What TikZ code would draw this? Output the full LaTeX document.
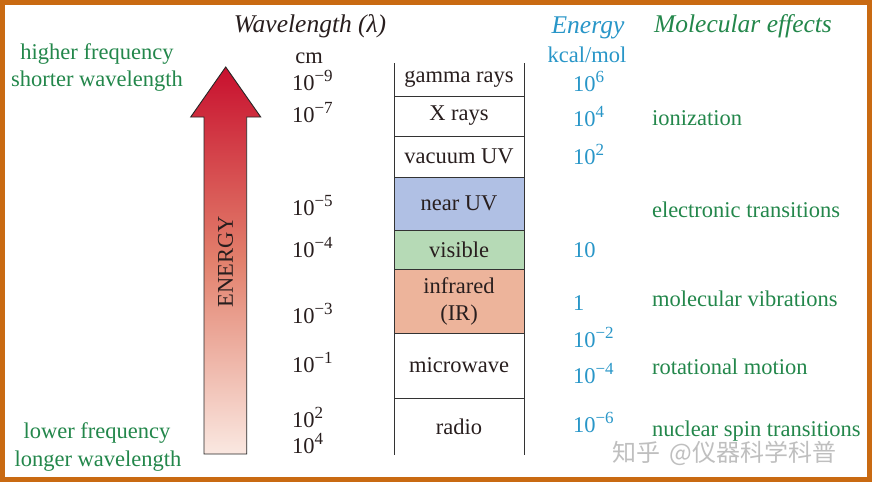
\documentclass[tikz,border=0pt]{standalone}
\usepackage{fontspec}
\setmainfont{Liberation Serif}
\newfontfamily\cjkfont{Noto Sans CJK SC}
\definecolor{frameorange}{RGB}{201,106,18}
\definecolor{effgreen}{RGB}{35,135,75}
\definecolor{enblue}{RGB}{40,150,200}
\definecolor{nuvblue}{RGB}{176,192,228}
\definecolor{visgreen}{RGB}{182,218,182}
\definecolor{irsalmon}{RGB}{237,180,155}
\definecolor{arrowtop}{RGB}{200,16,46}
\definecolor{arrowmid}{RGB}{226,128,108}
\definecolor{arrowbot}{RGB}{250,232,225}
\definecolor{darktxt}{RGB}{40,30,30}
\newcommand\tenp[1]{10\raisebox{0.40em}{\fontsize{17}{17}\selectfont #1}}
\begin{document}
\begin{tikzpicture}[x=1pt,y=-1pt,
  txt/.style={font=\fontsize{22.5}{27}\selectfont, inner sep=0pt, outer sep=0pt},
  head/.style={font=\fontsize{25.5}{30}\selectfont\itshape, anchor=base},
  lbl/.style={txt, text=darktxt},
  grn/.style={txt, text=effgreen},
  blu/.style={txt, text=enblue},
  band/.style={minimum width=130pt, inner sep=0pt, outer sep=0pt, text=darktxt,
    font=\fontsize{22.5}{27}\selectfont, align=center, anchor=north west},
  bandline/.style={draw=black!80, line width=0.9pt},
]
\useasboundingbox (0,0) rectangle (872,482);
\fill[white] (0,0) rectangle (872,482);
\draw[frameorange, line width=5pt] (2.5,2.5) rectangle (869.5,479.5);

% left labels
\node[grn, anchor=base] (hf) at (97,59) {higher frequency};
\node[grn, anchor=base] (sw) at (97,86) {shorter wavelength};
\node[grn, anchor=base] (lf) at (97,438) {lower frequency};
\node[grn, anchor=base] (lw) at (98,466) {longer wavelength};

% energy arrow
\path[draw=black!85, line width=0.9pt, top color=arrowtop, bottom color=arrowbot, middle color=arrowmid]
  (225.7,67) -- (260.7,117) -- (246.7,117) -- (246.7,454) -- (204,454) -- (204,117) -- (190.7,117) -- cycle;
\node[lbl, rotate=90] (energyword) at (225.5,262) {ENERGY};

% wavelength column
\node[lbl, head] (wlhead) at (310,32) {Wavelength (λ)};
\node[lbl, anchor=base] (cm) at (309,63) {cm};
\node[lbl, anchor=base west] (w9) at (292,90) {\tenp{−9}};
\node[lbl, anchor=base west] (w7) at (292,122) {\tenp{−7}};
\node[lbl, anchor=base west] (w5) at (292,215) {\tenp{−5}};
\node[lbl, anchor=base west] (w4) at (292,257) {\tenp{−4}};
\node[lbl, anchor=base west] (w3) at (292,323) {\tenp{−3}};
\node[lbl, anchor=base west] (w1) at (292,372) {\tenp{−1}};
\node[lbl, anchor=base west] (wp2) at (292,427) {\tenp{2}};
\node[lbl, anchor=base west] (wp4) at (292,453) {\tenp{4}};

% spectrum bands
\node[band, minimum height=33pt] (gamma) at (394,63) {gamma rays};
\node[band, minimum height=40pt] (xray) at (gamma.south west) {X rays};
\node[band, minimum height=41pt] (vuv) at (xray.south west) {vacuum UV};
\node[band, minimum height=53pt, fill=nuvblue] (nuv) at (vuv.south west) {near UV};
\node[band, minimum height=39pt, fill=visgreen] (vis) at (nuv.south west) {visible};
\node[band, minimum height=64pt, fill=irsalmon] (ir) at (vis.south west) {infrared\\(IR)};
\node[band, minimum height=65pt] (mw) at (ir.south west) {microwave};
\node[band, minimum height=57pt] (radio) at (mw.south west) {radio};
\draw[bandline] (gamma.north west) -- (radio.south west);
\draw[bandline] (gamma.north east) -- (radio.south east);
\foreach \b in {gamma,xray,vuv,nuv,vis,ir,mw}
  \draw[bandline] (\b.south west) -- (\b.south east);

% energy column
\node[blu, head] (enhead) at (588,33) {Energy};
\node[blu, anchor=base] (kcal) at (587,62) {kcal/mol};
\node[blu, anchor=base west] (e6) at (573,91) {\tenp{6}};
\node[blu, anchor=base west] (e4) at (573,126) {\tenp{4}};
\node[blu, anchor=base west] (e2) at (573,164) {\tenp{2}};
\node[blu, anchor=base west] (e1) at (573,257) {10};
\node[blu, anchor=base west] (e0) at (573,310) {1};
\node[blu, anchor=base west] (em2) at (573,347) {\tenp{−2}};
\node[blu, anchor=base west] (em4) at (573,383) {\tenp{−4}};
\node[blu, anchor=base west] (em6) at (573,432) {\tenp{−6}};

% molecular effects
\node[grn, head] (mehead) at (743,32) {Molecular effects};
\node[grn, anchor=base west] (ion) at (652,125) {ionization};
\node[grn, anchor=base west] (elec) at (652,217) {electronic transitions};
\node[grn, anchor=base west] (vib) at (652,306) {molecular vibrations};
\node[grn, anchor=base west] (rot) at (652,374) {rotational motion};
\node[grn, anchor=base west] (nuc) at (652,436) {nuclear spin transitions};

% watermark
\node[inner sep=0pt, anchor=base west, text=black!25, font=\cjkfont\fontsize{24}{24}\selectfont] (wm) at (612,461) {知乎 \,@仪器科学科普};
\end{tikzpicture}
\end{document}
